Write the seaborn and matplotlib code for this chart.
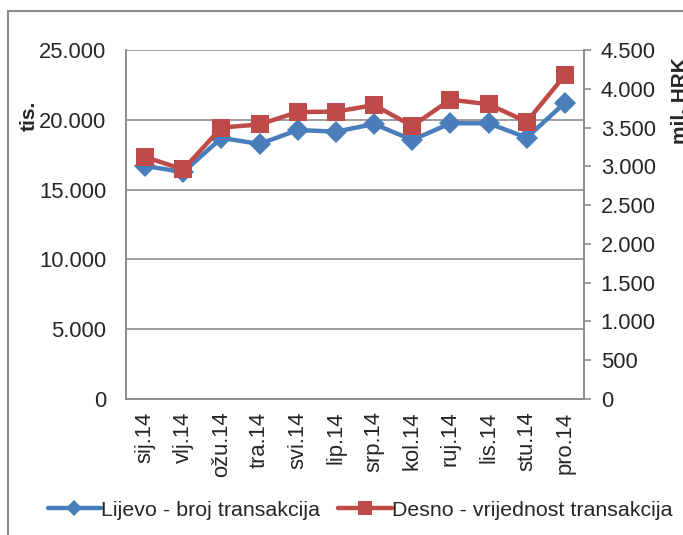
import pandas as pd
import seaborn as sns
import matplotlib.pyplot as plt
from matplotlib.ticker import FuncFormatter, MultipleLocator
from matplotlib.patches import Rectangle

# podaci
mjeseci = ['sij.14', 'vlj.14', 'ožu.14', 'tra.14', 'svi.14', 'lip.14',
           'srp.14', 'kol.14', 'ruj.14', 'lis.14', 'stu.14', 'pro.14']
broj_transakcija = [16700, 16250, 18700, 18270, 19270, 19150,
                    19700, 18550, 19750, 19750, 18720, 21220]
vrijednost_transakcija = [3120, 2960, 3500, 3540, 3700, 3705,
                          3790, 3520, 3860, 3800, 3575, 4175]
naziv_lijevo = 'Lijevo - broj transakcija'
naziv_desno = 'Desno - vrijednost transakcija'

df = pd.DataFrame({'mjesec': mjeseci,
                   'broj': broj_transakcija,
                   'vrijednost': vrijednost_transakcija})

sns.set_style('white')
plt.rcParams['font.family'] = ['Liberation Sans', 'DejaVu Sans']
plt.rcParams['font.size'] = 15.8

plava = '#4A7EBB'
crvena = '#BE4B48'
siva = '#8C8C8C'

fig = plt.figure(figsize=(6.83, 5.35), dpi=100)
ax = fig.add_axes([126 / 683, 136 / 535, 458 / 683, 349 / 535])
ax2 = ax.twinx()

sns.lineplot(data=df, x='mjesec', y='broj', ax=ax, color=plava, lw=3.2,
             marker='D', markersize=11, markeredgewidth=0, label=naziv_lijevo,
             legend=False, sort=False)
sns.lineplot(data=df, x='mjesec', y='vrijednost', ax=ax2, color=crvena, lw=3.2,
             marker='s', markersize=12.5, markeredgewidth=0, label=naziv_desno,
             legend=False, sort=False)

tocke = FuncFormatter(lambda v, p: f'{int(v):,}'.replace(',', '.'))

ax.set_ylim(0, 25000)
ax.yaxis.set_major_locator(MultipleLocator(5000))
ax.yaxis.set_major_formatter(tocke)
ax.set_xlim(-0.5, len(mjeseci) - 0.5)
ax.grid(axis='y', color=siva, lw=1.2)
ax.set_axisbelow(True)
ax.tick_params(axis='y', length=0, pad=14)
ax.tick_params(axis='x', length=0, pad=9, rotation=90)
ax.set_xlabel('')
ax.set_ylabel('tis.', fontweight='bold', fontsize=15)
ax.yaxis.set_label_coords(-0.19, 0.81)

ax2.set_ylim(0, 4500)
ax2.yaxis.set_major_locator(MultipleLocator(500))
ax2.yaxis.set_major_formatter(tocke)
ax2.tick_params(axis='y', direction='out', length=5, width=1.2, color=siva, pad=7)
ax2.set_ylabel('mil. HRK', fontweight='bold', fontsize=15)
ax2.yaxis.set_label_coords(1.19, 0.855)

for a in (ax, ax2):
    for s in a.spines.values():
        s.set_color(siva)
        s.set_linewidth(1.2)
    a.spines['top'].set_visible(False)

# vanjski okvir grafikona
fig.patches.append(Rectangle((8 / 683, -0.1), 1.2, 1.1 - 11 / 535,
                             transform=fig.transFigure, fill=False,
                             edgecolor=siva, lw=1.5))

h1, l1 = ax.get_legend_handles_labels()
h2, l2 = ax2.get_legend_handles_labels()
fig.legend(h1 + h2, l1 + l2, loc='center', bbox_to_anchor=(0.527, 0.046),
           ncol=2, frameon=False, handlelength=2.5, handletextpad=0.0,
           columnspacing=0.85, fontsize=15.4, markerscale=0.75)

fig.savefig('out.png', dpi=100)
